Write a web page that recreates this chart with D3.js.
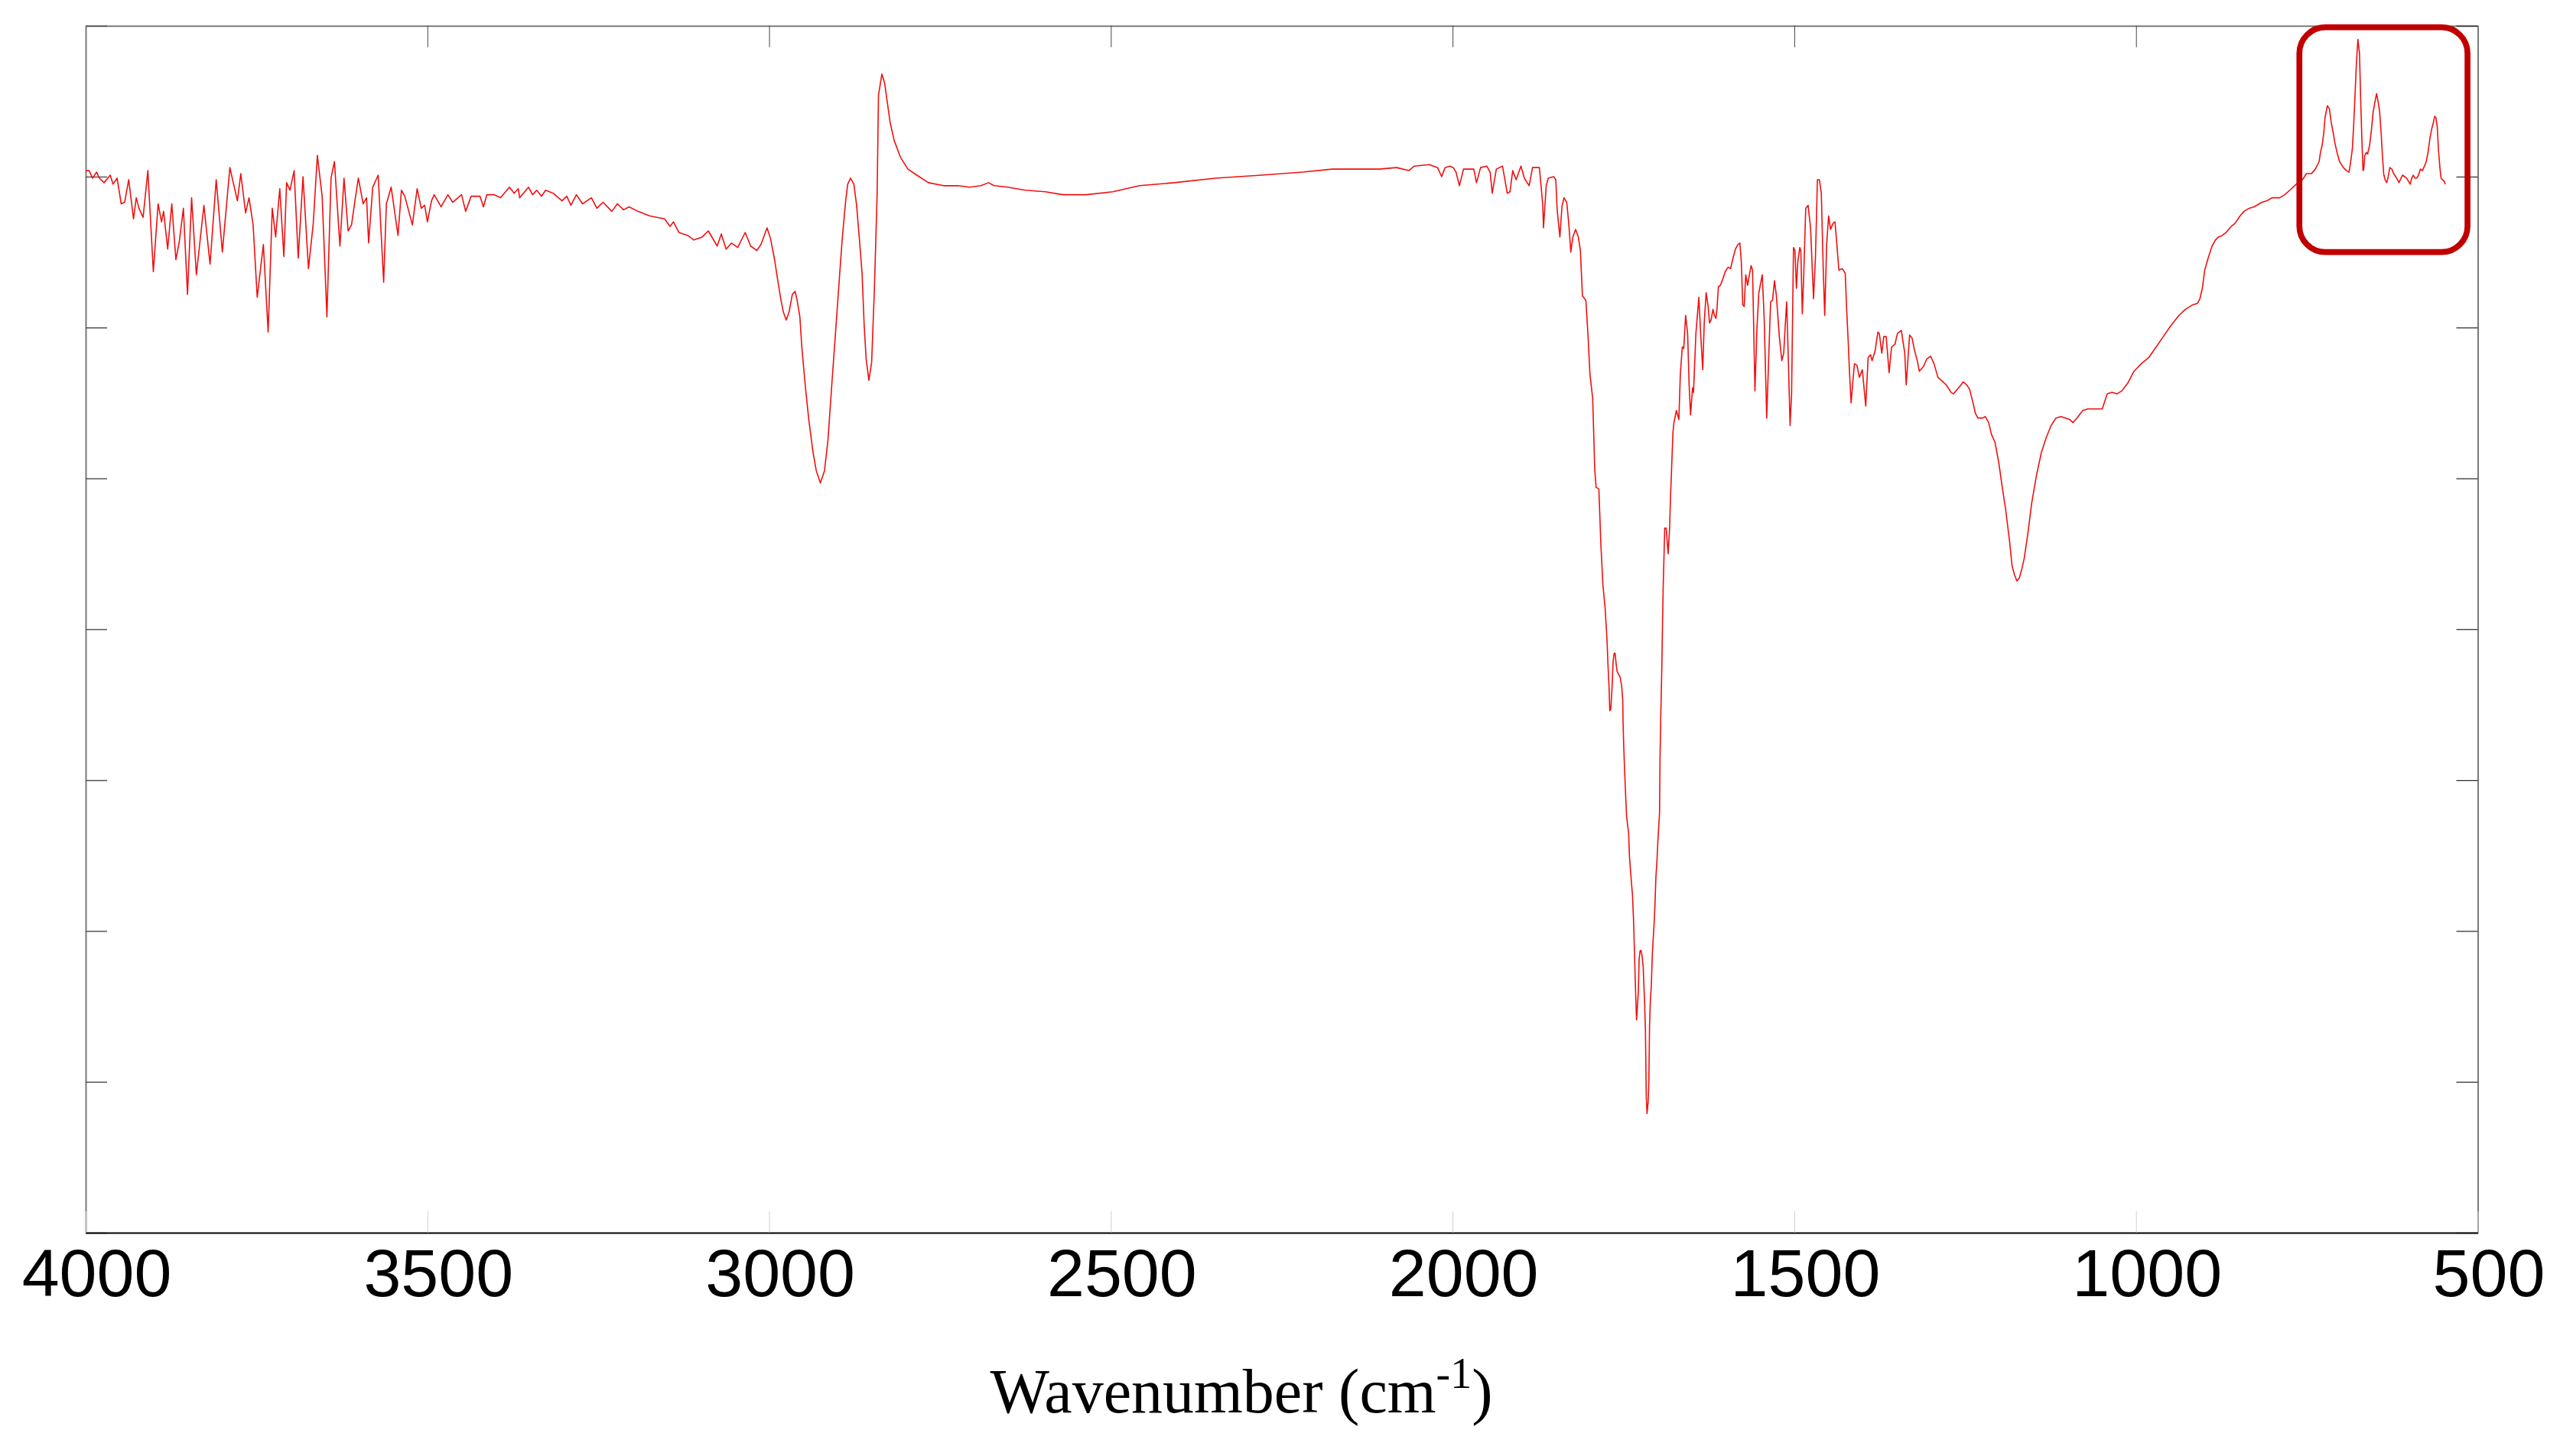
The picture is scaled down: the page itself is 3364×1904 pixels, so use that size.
<!DOCTYPE html>
<html lang="en">
<head>
<meta charset="UTF-8">
<title>FTIR spectrum</title>
<script src="https://cdn.jsdelivr.net/npm/d3@7"></script>
<style>
  html, body { margin: 0; padding: 0; background: #fff; }
  svg { display: block; }
  .tick-label { font-family: "Liberation Sans", Arial, sans-serif; }
  .axis-title { font-family: "Liberation Serif", "Times New Roman", serif; }
</style>
</head>
<body>
<script>
// x ticks (cm-1) and y tick count (the y axis carries no labels)
const xTicks = [4000, 3500, 3000, 2500, 2000, 1500, 1000, 500];
const yTicks = [0, 10, 20, 30, 40, 50, 60, 70, 80];

// spectrum, [wavenumber, signal]
const region4000to3000 = [
  [4000,70.4],[3995,70.4],[3990,69.9],[3984,70.3],[3980,69.9],[3973,69.6],[3964,70.1],[3960,69.5],[3954,69.9],[3948,68.2],
  [3943,68.3],[3937,69.8],[3930,67.2],[3926,68.6],[3922,67.9],[3916,67.3],[3909,70.4],[3901,63.7],[3894,68.2],[3889,67.0],
  [3886,67.7],[3880,65.2],[3874,68.2],[3868,64.5],[3863,65.7],[3857,67.9],[3851,62.2],[3845,68.6],[3838,63.5],[3827,68.1],
  [3818,64.2],[3809,69.8],[3800,65.0],[3789,70.6],[3778,68.4],[3773,70.2],[3766,67.6],[3761,68.6],[3755,66.8],[3749,62.0],
  [3740,65.5],[3733,59.7],[3727,67.9],[3722,66.0],[3716,69.2],[3710,64.7],[3706,69.6],[3701,69.1],[3695,70.4],[3689,64.6],
  [3682,70.0],[3674,63.9],[3667,66.9],[3661,71.4],[3654,68.7],[3647,60.7],[3641,69.9],[3636,71.0],[3628,65.4],[3622,69.9],
  [3616,66.4],[3611,66.8],[3606,68.4],[3601,69.9],[3594,68.2],[3589,68.6],[3586,65.6],[3580,69.3],[3572,70.1],[3564,63.0],
  [3560,68.2],[3553,69.3],[3543,66.1],[3538,69.1],[3533,68.7],[3522,66.8],[3515,69.2],[3509,67.9],[3504,68.1],[3500,67.0],
  [3494,68.4],[3490,68.8],[3480,68.0],[3470,68.8],[3463,68.3],[3450,68.8],[3444,67.7],[3436,68.7],[3423,68.7],[3418,68.0],
  [3413,68.8],[3402,68.8],[3393,68.6],[3380,69.3],[3373,68.9],[3367,69.2],[3365,68.6],[3352,69.3],[3346,68.8],[3340,69.1],
  [3333,68.7],[3327,69.1],[3316,68.9],[3303,68.4],[3296,68.7],[3290,68.1],[3282,68.8],[3273,68.2],[3260,68.6],[3252,67.9],
  [3243,68.3],[3230,67.7],[3222,68.2],[3213,67.8],[3205,68.0],[3192,67.7],[3175,67.4],[3153,67.2],[3145,66.7],[3140,67.0],
  [3132,66.3],[3119,66.1],[3110,65.8],[3098,66.0],[3089,66.4],[3076,65.4],[3070,66.2],[3063,65.2],[3055,65.6],[3046,65.3],
  [3035,66.3],[3027,65.4],[3018,65.1],[3012,65.5],[3003,66.6]
];

const region3000to2000 = [
  [2998,65.9],[2992,64.5],[2988,63.3],[2983,61.9],[2979,61.0],[2975,60.5],[2971,61.0],[2966,62.2],[2962,62.4],[2959,61.8],
  [2955,60.7],[2952,58.6],[2947,56.1],[2942,53.9],[2936,51.8],[2931,50.5],[2925,49.7],[2919,50.5],[2914,52.5],[2908,56.4],
  [2902,60.2],[2897,63.4],[2893,65.9],[2888,68.4],[2885,69.5],[2881,69.9],[2876,69.5],[2872,68.1],[2868,65.9],[2864,63.6],
  [2861,60.2],[2858,57.9],[2854,56.5],[2850,57.7],[2846,62.5],[2842,68.8],[2840,75.4],[2835,76.8],[2831,76.2],[2827,74.9],
  [2823,73.6],[2817,72.4],[2808,71.3],[2797,70.5],[2784,70.1],[2767,69.6],[2745,69.4],[2737,69.4],[2724,69.4],[2707,69.3],
  [2690,69.4],[2679,69.6],[2671,69.4],[2651,69.3],[2625,69.1],[2596,69.0],[2570,68.8],[2536,68.8],[2497,69.0],[2458,69.4],
  [2407,69.6],[2347,69.9],[2279,70.1],[2219,70.3],[2176,70.5],[2142,70.5],[2107,70.5],[2082,70.6],[2064,70.4],[2056,70.7],
  [2034,70.8],[2022,70.6],[2016,70.0],[2011,70.6],[2004,70.7]
];

const region2000to1775 = [
  [1999,70.6],[1995,70.3],[1990,69.4],[1984,70.5],[1969,70.5],[1965,69.6],[1959,70.6],[1950,70.7],[1945,70.3],[1942,68.9],
  [1936,70.5],[1927,70.7],[1920,68.9],[1916,69.0],[1912,70.4],[1907,69.8],[1900,70.7],[1895,69.9],[1888,69.4],[1883,70.6],
  [1873,70.6],[1868,68.1],[1867,66.6],[1863,69.4],[1860,69.9],[1852,70.0],[1849,69.8],[1847,67.8],[1843,66.0],[1840,68.0],
  [1837,68.6],[1833,68.3],[1830,66.9],[1827,65.0],[1824,66.0],[1820,66.5],[1816,66.0],[1813,65.1],[1810,62.1],[1805,61.8],
  [1802,59.6],[1799,56.9],[1795,55.3],[1792,50.6],[1790,49.4],[1786,49.3],[1783,45.6],[1780,42.9],[1777,41.5]
];

const regionCarbonyl = [
  [1774.8,39.9],[1773.7,38.9],[1772.6,37.6],[1771.1,36.2],[1770.0,34.6],[1768.5,34.7],[1766.6,36.2],[1765.1,37.9],
  [1763.6,38.4],[1762.2,38.4],[1760.7,37.7],[1759.2,37.2],[1756.9,37.0],[1754.7,36.8],[1752.5,36.2],[1751.0,35.3],
  [1750.6,33.9],[1749.5,32.1],[1748.0,30.3],[1746.5,28.7],[1745.4,27.6],[1743.9,27.0],[1742.4,26.5],[1741.3,25.0],
  [1739.8,24.1],[1738.3,23.2],[1736.8,22.4],[1735.3,20.8],[1733.8,18.5],[1732.7,16.7],[1731.6,15.1],[1730.8,14.1],
  [1729.7,14.9],[1728.2,16.0],[1727.1,18.1],[1725.6,18.7],[1724.1,18.7],[1722.6,18.3],[1721.1,17.6],[1720.0,16.3],
  [1718.9,15.1],[1717.8,13.3],[1716.6,9.0],[1715.5,7.9],[1714.0,8.6],[1712.9,9.8],[1711.8,13.7],[1710.7,15.3],
  [1709.2,16.4],[1707.7,18.5],[1706.6,19.4],[1705.1,20.5],[1704.0,21.6],[1702.5,23.6],[1701.0,24.6],[1699.9,25.7],
  [1698.7,26.7],[1697.2,27.8],[1696.5,31.4],[1695.4,34.2],[1693.9,37.4],[1692.8,40.5]
];

const region1700to880 = [
  [1691.8,42.9],[1689.6,46.7],[1687.5,46.7],[1684.6,45.0],[1682.5,46.7],[1681.1,48.8],[1679.6,50.6],[1677.5,53.1],
  [1676.1,53.7],[1672.5,54.5],[1668.9,53.9],[1666.8,56.9],[1663.9,58.7],[1661.8,58.6],[1659,60.8],[1656.1,59.6],
  [1653.9,56.2],[1651.8,54.2],[1648.9,56.0],[1647.5,55.7],[1644,59.6],[1639.7,62.0],[1636.8,59.4],[1634,57.2],
  [1631.8,60.3],[1629,62.3],[1626.1,61.4],[1624,60.3],[1621.8,60.5],[1619,61.2],[1616.8,60.8],[1614.7,60.6],
  [1613.2,61.2],[1611.1,62.7],[1608.2,62.8],[1604.7,63.2],[1601.1,63.7],[1596.8,64.0],[1593.3,63.9],[1589.7,64.6],
  [1586.1,65.2],[1582.6,65.5],[1579.7,65.6],[1577.6,64.4],[1575.4,61.5],[1573.3,61.4],[1571.1,63.5],[1568.3,62.8],
  [1566.9,63.2],[1563.3,64.1],[1561.1,63.8],[1557.6,55.8],[1554.7,59.9],[1551.9,62.3],[1549,63.0],[1546.9,63.5],
  [1544,60.5],[1540.4,54.0],[1537.6,57.8],[1534.7,61.7],[1531.9,61.8],[1529,63.1],[1526.2,62.1],[1521.9,59.4],
  [1518.3,57.8],[1515.5,58.3],[1513.3,60.1],[1511.2,61.7],[1509,58.3],[1506.2,53.5],[1504,55.6],[1501.2,65.3],
  [1499.1,65.1],[1496.9,62.6],[1494.8,64.4],[1491.9,65.3],[1490.5,65.1],[1488.3,60.9],[1486.2,63.5],[1483.3,67.9],
  [1479.8,68.1],[1476.2,66.6],[1471.9,61.9],[1469.1,64.6],[1466.2,69.8],[1463.4,69.8],[1460.5,68.9],[1457.7,63.9],
  [1455.5,60.8],[1452.7,65.5],[1449.8,67.4],[1446.9,66.5],[1443.4,66.9],[1440.5,67.0],[1437.7,65.5],[1434.8,63.8],
  [1429.8,63.9],[1425.5,63.6],[1423.4,61.2],[1421.2,59.1],[1419.1,56.9],[1416.9,55.0],[1414.8,56.2],[1412,57.6],
  [1408.4,57.5],[1404.8,56.7],[1400.5,57.2],[1395.5,54.8],[1392,58.0],[1388.4,58.2],[1386.3,57.8],[1382,58.4],
  [1377.7,59.7],[1375.6,59.6],[1372,58.3],[1369.1,59.4],[1365.6,59.4],[1361.3,57.0],[1357.7,58.7],[1352.7,58.9],
  [1349.1,59.6],[1343.4,59.8],[1338.4,58.3],[1336.3,56.2],[1331.3,59.5],[1327.7,59.3],[1324.2,58.5],[1320.6,57.9],
  [1317,57.1],[1311.3,57.4],[1306.3,57.9],[1300.6,58.1],[1295.6,57.6],[1289.9,56.7],[1284.9,56.5],[1277.8,56.2],
  [1270.6,55.7],[1267.1,55.6],[1263.5,55.8],[1257.8,56.1],[1252.8,56.4],[1247.8,56.2],[1243.5,55.9],[1238.5,55.0],
  [1235,54.3],[1231.4,54.0],[1224.2,54.0],[1220.7,54.1],[1215.7,53.7],[1211.4,52.9],[1206.4,52.4],[1200.7,51.0],
  [1195.7,49.4],[1190.7,47.9],[1185,45.8],[1181.4,44.2],[1177.8,43.6],[1174.3,43.2],[1170.7,43.4],[1167.1,44.0],
  [1163.6,44.7],[1157.8,46.5],[1152.9,48.3],[1145.7,50.2],[1138.6,51.7],[1131.4,52.7],[1124.3,53.5],[1117.2,54.0],
  [1110,54.1],[1102.9,54.0],[1097.2,53.9],[1092.2,53.7],[1086.5,54.0],[1077.9,54.5],[1070.8,54.6],[1060.1,54.6],
  [1049.4,54.6],[1042.2,55.6],[1035.1,55.7],[1028,55.6],[1020.8,55.8],[1012.3,56.3],[1003,57.1],[992.3,57.6],
  [981.5,58.0],[970.8,58.7],[960.1,59.4],[949.4,60.1],[937.3,60.8],[928,61.2],[917.3,61.5],[910.2,61.6],
  [906.6,61.9],[903,62.6],[899.5,63.8],[894.5,64.6],[888.8,65.4],[883.8,65.8],[879.5,66.0]
];

const region880to547 = [
  [873.8,66.1],[868.2,66.3],[860.8,66.7],[855.2,66.9],[847.7,67.4],[842.1,67.7],[834.7,67.9],[827.2,68.0],
  [823.5,68.1],[816,68.3],[808.5,68.4],[801.1,68.6],[789.9,68.6],[782.4,68.8],[775,69.1],[765.6,69.5],
  [756.3,69.8],[750.7,70.2],[743.3,70.2],[737.7,70.5],[732.1,71.0],[730.2,71.6],[727.6,72.1],[725.3,72.9],
  [723.5,73.9],[720.1,74.7],[717.1,74.5],[714.5,73.6],[711.5,72.9],[708.9,72.2],[705.9,71.6],[702.2,71.0],
  [696.6,70.6],[692.2,70.4],[688.4,70.3],[686.2,70.9],[683.6,71.8],[681.7,73.3],[679.5,75.5],[677.6,77.5],
  [675.4,79.1],[673.1,78.2],[671.3,75.1],[669.4,72.2],[667.9,70.4],[666.8,70.5],[665.3,71.4],[663,71.6],
  [661.2,71.5],[658.2,72.1],[655.6,73.1],[653,74.3],[650.7,74.9],[648.1,75.5],[645.5,74.9],[643.6,74.3],
  [641.4,72.9],[639.5,71.4],[637.7,70.2],[635.8,69.8],[633.2,69.6],[631,70.0],[628.7,70.6],[625.7,70.5],
  [623.1,70.2],[620.1,70.0],[617.5,69.8],[615.3,69.6],[612.3,69.9],[610.1,70.1],[607.1,70.0],[604.1,69.9],
  [601.5,69.7],[598.9,69.5],[596.6,69.9],[594.4,70.1],[592.1,69.9],[589.2,69.9],[586.6,70.1],[584,70.5],
  [581,70.4],[578,70.7],[575.4,71.0],[572.8,71.6],[569.8,72.6],[567.2,73.2],[564.9,73.6],[563,74.0],
  [561.2,73.9],[559.3,73.3],[557.4,71.7],[555.2,70.5],[553.7,69.9],[551.8,69.8],[549.2,69.7],[547.4,69.5]
];

// highlighted fingerprint window: wavenumber span and signal span
const highlightWn = [761, 515];
const highlightSignal = [79.9, 65];

const spectrum = [].concat(region4000to3000, region3000to2000, region2000to1775,
  regionCarbonyl, region1700to880, region880to547);

const width = 3364, height = 1904;
const margin = {top: 33.7, right: 124.5, bottom: 292, left: 112};
const plotW = width - margin.left - margin.right,
      plotH = height - margin.top - margin.bottom;

const svg = d3.select("body").append("svg")
  .attr("width", width)
  .attr("height", height);

const x = d3.scaleLinear().domain([4000, 500]).range([0, plotW]);
const y = d3.scaleLinear().domain([0, 80]).range([plotH, 0]);

const g = svg.append("g")
  .attr("transform", `translate(${margin.left},${margin.top})`);

// frame: top, left, right in grey, bottom in black
g.append("g")
  .call(d3.axisTop(x).tickValues(xTicks).tickSize(-28).tickSizeOuter(0).tickFormat(""))
  .call(a => a.select(".domain").attr("stroke", "#7a7a7a").attr("stroke-width", 2))
  .call(a => a.selectAll(".tick line").attr("stroke", "#444").attr("stroke-width", 1));

g.append("g")
  .call(d3.axisLeft(y).tickValues(yTicks).tickSize(-28).tickSizeOuter(0).tickFormat(""))
  .call(a => a.select(".domain").attr("stroke", "#7a7a7a").attr("stroke-width", 2))
  .call(a => a.selectAll(".tick line").attr("stroke", "#555").attr("stroke-width", 1.5));

g.append("g")
  .attr("transform", `translate(${plotW},0)`)
  .call(d3.axisRight(y).tickValues(yTicks).tickSize(-28).tickSizeOuter(0).tickFormat(""))
  .call(a => a.select(".domain").attr("stroke", "#7a7a7a").attr("stroke-width", 2))
  .call(a => a.selectAll(".tick line").attr("stroke", "#333").attr("stroke-width", 1.3));

const xAxis = g.append("g")
  .attr("transform", `translate(0,${plotH})`)
  .call(d3.axisBottom(x).tickValues(xTicks).tickSize(-28).tickSizeOuter(0).tickPadding(21).tickFormat(d3.format("d")));
xAxis.select(".domain").attr("stroke", "#000").attr("stroke-width", 2.2);
xAxis.selectAll(".tick line").attr("stroke", "#cfcfcf").attr("stroke-width", 1);
xAxis.selectAll(".tick text")
  .attr("class", "tick-label")
  .attr("dx", 14)
  .attr("fill", "#000")
  .style("font-size", "88px");

// spectrum
const line = d3.line()
  .x(d => x(d[0]))
  .y(d => y(d[1]));

g.append("path")
  .datum(spectrum)
  .attr("fill", "none")
  .attr("stroke", "#f01010")
  .attr("stroke-width", 1.6)
  .attr("stroke-linejoin", "round")
  .attr("d", line);

// rounded highlight box
g.append("rect")
  .attr("x", x(highlightWn[0]))
  .attr("y", y(highlightSignal[0]))
  .attr("width", x(highlightWn[1]) - x(highlightWn[0]))
  .attr("height", y(highlightSignal[1]) - y(highlightSignal[0]))
  .attr("rx", 34)
  .attr("ry", 34)
  .attr("fill", "none")
  .attr("stroke", "#c00000")
  .attr("stroke-width", 7.7);

// x axis title
const title = svg.append("text")
  .attr("class", "axis-title")
  .attr("x", 1623)
  .attr("y", 1847)
  .attr("text-anchor", "middle")
  .style("font-size", "82px")
  .attr("fill", "#000");
title.append("tspan").text("Wavenumber (cm");
title.append("tspan").attr("dy", -32).style("font-size", "56px").text("-1");
title.append("tspan").attr("dy", 32).text(")");
</script>
</body>
</html>
